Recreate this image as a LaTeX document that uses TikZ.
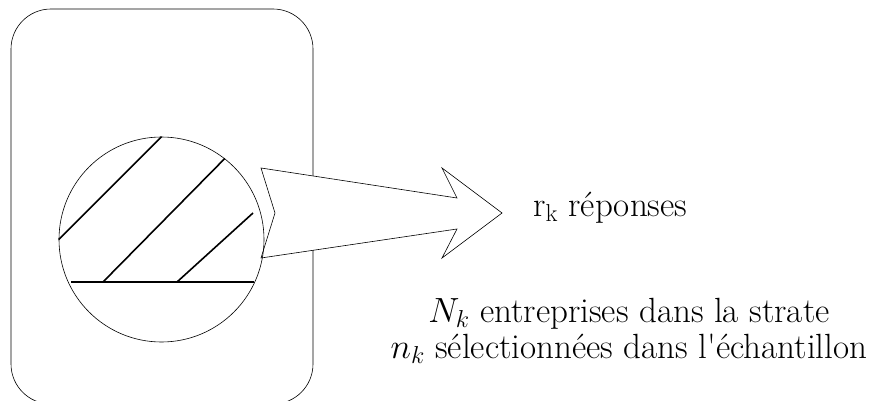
\RequirePackage{fix-cm}
\documentclass[tikz,border=0pt]{standalone}
\usepackage{amsmath}
\usepackage{fontspec}
\usepackage{tikz}
\usetikzlibrary{calc}

\begin{document}
\begin{tikzpicture}[
    x=1pt, y=-1pt,
    thin line/.style={draw, line width=0.6pt},
    hatch/.style={line width=1.6pt},
    ech/.style={draw, circle, line width=0.6pt, minimum size=205pt, inner sep=0pt},
    lbl/.style={font=\fontsize{35}{36}\selectfont, inner sep=0pt},
]
    \clip (0,0) rectangle (883,401);
    \useasboundingbox (0,0) rectangle (883,401);
    % strate
    \draw[thin line, rounded corners=40pt] (11,9) rectangle (313,404);
    % grande fleche
    \coordinate (tip) at (502,213);
    \draw[thin line, fill=white] (261,168) -- (457,198) -- (442,168) -- (tip)
        -- (442,258) -- (457,229) -- (261,258) -- (275,213) -- cycle;
    % echantillon
    \node[ech] (echant) at (161.5,239.5) {};
    \draw[hatch] (echant.west) -- (echant.north);
    \draw[hatch] (103,282) -- (echant.52);
    \draw[hatch] (177,282) -- (253,213);
    \draw[hatch] (71,282) -- (254,282);
    % textes
    \node[lbl, anchor=base west] (rep) at (533,216) {$\mathrm{r}_{\mathrm{k}}$ réponses};
    \node[lbl, align=center, anchor=base] (strate) at (629,358)
        {$N_k$ entreprises dans la strate\\$n_k$ sélectionnées dans l\textquotesingle{}échantillon};
\end{tikzpicture}
\end{document}
